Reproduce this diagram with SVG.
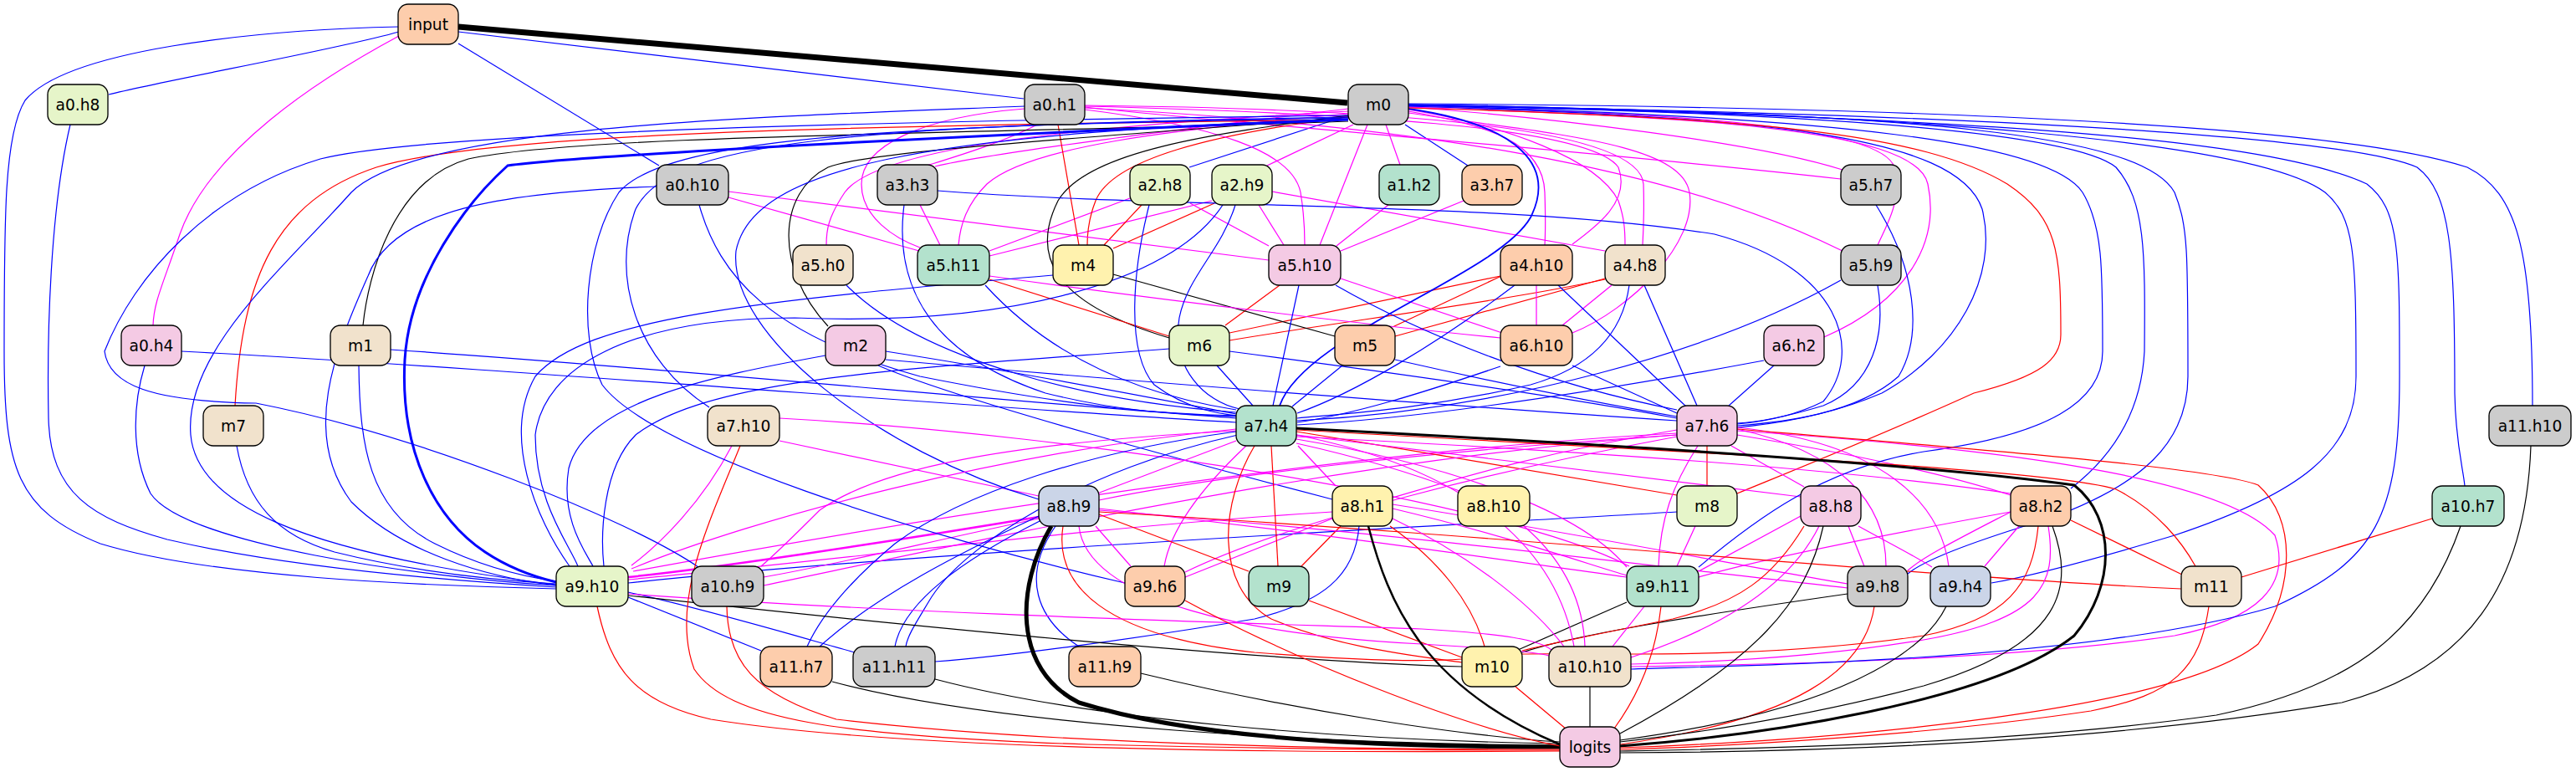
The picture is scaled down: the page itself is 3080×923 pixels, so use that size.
<svg xmlns="http://www.w3.org/2000/svg" width="3080" height="923" viewBox="0 0 3080 923">
<style>
path{fill:none;stroke-width:1.2}
.b{stroke:#0000ff;marker-end:url(#ab)}
.m{stroke:#ff00ff;marker-end:url(#am)}
.r{stroke:#ff0000;marker-end:url(#ar)}
.k{stroke:#000000;marker-end:url(#ak)}
.node rect{stroke:#000;stroke-width:1.33}
.node text{font-family:"DejaVu Sans","Liberation Sans",sans-serif;font-size:18.67px;text-anchor:middle;fill:#000}
.c1{fill:#b3e2cd}.c2{fill:#fdcdac}.c3{fill:#cbd5e8}.c4{fill:#f4cae4}.c5{fill:#e6f5c9}.c6{fill:#fff2ae}.c7{fill:#f1e2cc}.c8{fill:#cccccc}
</style>
<defs>
<marker id="ab" viewBox="0 0 13 9" refX="13" refY="4.5" markerWidth="13" markerHeight="9" markerUnits="userSpaceOnUse" orient="auto"><path d="M0,0L13,4.5L0,9z" fill="#0000ff" stroke="none"/></marker>
<marker id="am" viewBox="0 0 13 9" refX="13" refY="4.5" markerWidth="13" markerHeight="9" markerUnits="userSpaceOnUse" orient="auto"><path d="M0,0L13,4.5L0,9z" fill="#ff00ff" stroke="none"/></marker>
<marker id="ar" viewBox="0 0 13 9" refX="13" refY="4.5" markerWidth="13" markerHeight="9" markerUnits="userSpaceOnUse" orient="auto"><path d="M0,0L13,4.5L0,9z" fill="#ff0000" stroke="none"/></marker>
<marker id="ak" viewBox="0 0 13 9" refX="13" refY="4.5" markerWidth="13" markerHeight="9" markerUnits="userSpaceOnUse" orient="auto"><path d="M0,0L13,4.5L0,9z" fill="#000000" stroke="none"/></marker>
<marker id="akT" viewBox="0 0 22 20" refX="22" refY="10" markerWidth="22" markerHeight="20" markerUnits="userSpaceOnUse" orient="auto"><path d="M0,0L22,10L0,20z" fill="#000000" stroke="none"/></marker>
<marker id="akM" viewBox="0 0 17 14" refX="17" refY="7" markerWidth="17" markerHeight="14" markerUnits="userSpaceOnUse" orient="auto"><path d="M0,0L17,7L0,14z" fill="#000000" stroke="none"/></marker>
<marker id="abT" viewBox="0 0 17 13" refX="17" refY="6.5" markerWidth="17" markerHeight="13" markerUnits="userSpaceOnUse" orient="auto"><path d="M0,0L17,6.5L0,13z" fill="#0000ff" stroke="none"/></marker>
<marker id="amT" viewBox="0 0 15 11" refX="15" refY="5.5" markerWidth="15" markerHeight="11" markerUnits="userSpaceOnUse" orient="auto"><path d="M0,0L15,5.5L0,11z" fill="#ff00ff" stroke="none"/></marker>
</defs>
<rect width="3080" height="923" fill="#ffffff"/>
<g id="edges">
<!-- input -->
<path class="k" style="stroke-width:7;marker-end:url(#akT)" d="M548,32 L1611,123"/>
<path class="b" d="M548,38 L1224,118"/>
<path class="b" d="M477,38 C400,60 200,95 130,113"/>
<path class="b" d="M548,52 L788,198"/>
<path class="m" d="M477,43 C380,95 250,180 215,280 C195,340 184,360 183,389"/>
<path class="b" d="M477,32 C300,36 80,60 30,120 C5,160 5,260 5,420 C5,560 20,610 120,650 C250,690 500,700 665,704"/>
<!-- rank2 -->
<path class="m" d="M1612,130 C1450,150 1200,180 1118,199"/>
<path class="m" d="M1240,149 C1200,170 1140,188 1108,198"/>
<path class="b" d="M1612,138 L1422,200"/>
<path class="m" d="M1618,149 L1515,198"/>
<path class="m" d="M1657,149 L1674,197"/>
<path class="b" d="M1680,149 L1755,198"/>
<path class="m" d="M1684,128 C1850,140 2100,170 2203,203"/>
<path class="m" d="M1297,128 C1500,150 1900,180 2201,214"/>
<!-- rank3 -->
<path class="m" d="M1612,133 C1300,150 1050,175 1010,230 C990,260 988,275 988,293"/>
<path class="m" d="M1612,136 C1400,155 1230,175 1180,220 C1155,245 1148,270 1146,293"/>
<path class="m" d="M1225,130 C1100,140 1030,175 1030,220 C1030,260 1070,285 1100,296"/>
<path class="m" d="M871,236 L1099,300"/>
<path class="m" d="M1100,245 L1124,293"/>
<path class="m" d="M1351,237 L1183,300"/>
<path class="m" d="M1449,240 L1183,306"/>
<path class="r" d="M1265,149 L1290,293"/>
<path class="r" d="M1612,140 C1450,160 1330,190 1310,240 C1302,260 1300,275 1300,293"/>
<path class="r" d="M1365,245 L1320,293"/>
<path class="r" d="M1452,243 L1331,297"/>
<path class="m" d="M871,229 L1517,311"/>
<path class="m" d="M1423,243 L1517,294"/>
<path class="m" d="M1505,245 L1535,293"/>
<path class="m" d="M1297,131 C1450,150 1545,180 1555,230 C1560,260 1560,280 1560,293"/>
<path class="m" d="M1635,149 L1578,293"/>
<path class="m" d="M1660,245 L1598,294"/>
<path class="m" d="M1750,240 L1603,300"/>
<path class="m" d="M1684,133 C1780,150 1845,170 1847,230 C1848,260 1848,275 1847,293"/>
<path class="m" d="M1297,127 C1600,135 1900,150 1935,200 C1950,240 1910,270 1880,292"/>
<path class="m" d="M1521,229 L1919,300"/>
<path class="m" d="M1684,131 C1800,150 1910,190 1935,240 C1942,260 1943,275 1943,293"/>
<path class="m" d="M1297,126 C1650,130 1960,150 1965,220 C1966,250 1965,275 1964,293"/>
<path class="m" d="M1297,129 C1700,150 2000,200 2203,300"/>
<path class="m" d="M1684,127 C2000,135 2250,150 2265,200 C2275,240 2255,270 2245,293"/>
<!-- rank4 -->
<path class="k" d="M1612,145 C1200,160 700,160 560,190 C470,215 440,330 434,389"/>
<path class="k" d="M1612,140 C1300,165 1040,180 990,200 C930,230 925,320 990,390"/>
<path class="k" d="M1612,138 C1450,160 1300,180 1265,240 C1235,300 1250,360 1398,404"/>
<path class="r" d="M1183,334 L1398,402"/>
<path class="r" d="M1530,341 L1465,389"/>
<path class="r" d="M1794,330 L1470,398"/>
<path class="r" d="M1919,334 C1800,360 1600,385 1470,407"/>
<path class="k" d="M1331,328 L1596,402"/>
<path class="r" d="M1795,330 L1665,391"/>
<path class="r" d="M1919,333 L1668,402"/>
<path class="m" d="M1603,333 L1796,398"/>
<path class="m" d="M1183,330 C1400,360 1650,390 1794,404"/>
<path class="m" d="M1837,341 L1837,389"/>
<path class="m" d="M1927,341 L1868,389"/>
<path class="m" d="M1684,135 C1850,160 2010,170 2020,230 C2030,290 1950,370 1880,398"/>
<path class="m" d="M1684,128 C2000,140 2290,150 2305,220 C2320,290 2280,360 2181,403"/>
<!-- rank5 -->
<path class="r" d="M1612,143 C1100,150 600,155 450,200 C330,240 290,330 281,485"/>
<path class="b" d="M1612,140 C1000,150 800,170 760,250 C730,330 760,430 848,487"/>
<path class="b" d="M1684,124 C2300,128 2800,150 2950,200 C3010,230 3028,300 3028,485"/>
<path class="b" d="M1684,126 C2300,135 2800,160 2890,200 C2930,230 2935,300 2935,470 C2936,530 2945,560 2947,581"/>
<path class="b" style="stroke-width:1.8" d="M1684,130 C1820,150 1860,200 1830,260 C1790,330 1560,400 1530,485"/>
<path class="b" d="M1455,437 L1498,485"/>
<path class="b" d="M1553,341 L1522,485"/>
<path class="b" d="M1605,437 L1545,486"/>
<path class="b" d="M1811,341 C1720,410 1620,470 1551,494"/>
<path class="b" d="M1948,341 C1940,400 1900,440 1830,460 C1700,490 1600,495 1551,500"/>
<path class="b" d="M1794,438 C1700,470 1620,495 1551,505"/>
<path class="b" d="M2109,431 C1900,470 1700,500 1551,508"/>
<path class="b" d="M2201,335 C2050,420 1800,490 1551,503"/>
<path class="b" d="M217,420 C600,440 1200,490 1478,505"/>
<path class="b" d="M467,418 C800,440 1200,480 1478,500"/>
<path class="b" d="M836,245 C860,330 920,400 1100,450 C1300,490 1400,495 1478,497"/>
<path class="b" d="M1081,245 C1070,330 1100,420 1250,470 C1350,495 1420,495 1478,498"/>
<path class="b" d="M1012,341 C1100,430 1300,480 1478,493"/>
<path class="b" d="M1178,341 C1250,420 1350,470 1478,490"/>
<path class="b" d="M1059,420 C1250,450 1400,480 1478,495"/>
<path class="b" d="M1059,430 C1400,460 1800,490 2005,503"/>
<path class="b" d="M1050,437 C1150,480 1450,560 1593,597"/>
<path class="b" d="M1374,245 C1355,320 1345,420 1380,460 C1420,490 1460,495 1480,497"/>
<path class="b" d="M1477,245 C1460,300 1420,330 1410,380 C1400,440 1440,480 1482,489"/>
<path class="b" d="M1121,228 C1400,250 1800,240 2050,280 C2200,320 2230,420 2180,480 C2140,500 2100,505 2077,507"/>
<path class="b" d="M1863,341 L2016,486"/>
<path class="b" d="M1966,341 L2029,485"/>
<path class="b" d="M2121,437 L2067,485"/>
<path class="b" d="M1880,437 L2005,494"/>
<path class="b" d="M1668,430 C1800,460 1900,480 2005,498"/>
<path class="b" d="M1470,420 C1700,450 1900,480 2005,500"/>
<path class="b" d="M1597,341 C1700,400 1850,460 2005,490"/>
<path class="b" d="M2245,341 C2255,400 2240,460 2180,485 C2130,500 2100,505 2077,506"/>
<path class="b" d="M2243,245 C2290,320 2300,400 2270,450 C2220,495 2130,505 2077,509"/>
<path class="b" d="M1684,127 C2100,140 2340,160 2370,250 C2390,330 2340,420 2250,470 C2180,500 2110,508 2077,511"/>
<!-- rank6 -->
<path class="m" d="M932,527 L1242,593"/>
<path class="m" d="M1478,527 L1312,590"/>
<path class="m" d="M2005,520 C1700,540 1450,570 1314,598"/>
<path class="b" d="M1612,142 C1100,160 900,200 880,300 C870,400 1050,540 1242,597"/>
<path class="m" d="M1552,533 L1597,581"/>
<path class="m" d="M2005,514 C1850,540 1750,570 1665,595"/>
<path class="m" d="M1550,530 C1640,550 1700,570 1745,587"/>
<path class="r" d="M1550,516 C1700,540 1900,575 2005,592"/>
<path class="r" d="M2041,533 L2041,581"/>
<path class="r" d="M1684,129 C2100,140 2300,160 2400,220 C2460,260 2464,300 2464,400 C2464,430 2440,450 2360,470 C2250,520 2150,560 2077,590"/>
<path class="m" d="M2070,533 L2157,582"/>
<path class="m" d="M1550,520 C1800,550 2000,575 2153,594"/>
<path class="m" d="M1550,522 C1900,540 2200,560 2404,590"/>
<path class="m" d="M2077,520 C2200,540 2320,565 2404,592"/>
<path class="b" d="M1684,126 C2200,135 2480,160 2530,200 C2565,240 2565,300 2564,420 C2560,500 2520,550 2476,584"/>
<!-- rank7 -->
<path class="b" d="M84,149 C60,250 56,400 58,500 C60,590 110,620 200,645 C350,680 550,695 665,702"/>
<path class="b" d="M173,437 C160,480 155,540 180,590 C220,650 500,690 665,700"/>
<path class="b" d="M283,533 C295,600 330,640 400,660 C500,685 600,694 665,698"/>
<path class="b" d="M429,437 C430,530 440,610 520,650 C580,680 630,690 665,695"/>
<path class="b" d="M1225,127 C900,140 500,150 420,230 C340,320 220,420 228,520 C235,600 350,660 665,699"/>
<path class="b" d="M785,223 C600,230 470,250 440,330 C400,420 360,520 420,600 C480,660 580,690 665,700"/>
<path class="b" style="stroke-width:3;marker-end:url(#abT)" d="M1612,143 C1200,160 700,185 607,198 C560,240 490,330 484,430 C478,540 520,620 580,660 C610,680 640,690 665,696"/>
<path class="b" d="M1259,329 C900,360 700,380 640,450 C600,520 640,620 681,677"/>
<path class="b" d="M1462,245 C1400,340 1200,390 950,380 C750,380 650,440 640,520 C640,600 680,650 691,677"/>
<path class="b" d="M987,425 C850,450 700,480 680,560 C670,620 700,660 709,677"/>
<path class="b" d="M1398,417 C1100,440 850,450 760,520 C720,560 718,640 722,677"/>
<path class="m" style="stroke-width:2.5;marker-end:url(#amT)" d="M1242,618 C1050,650 850,680 751,690"/>
<path class="m" d="M1478,513 C1200,540 900,620 755,680"/>
<path class="m" d="M875,533 C840,600 790,650 755,676"/>
<path class="m" d="M1593,612 C1300,630 1000,670 751,693"/>
<path class="m" d="M2005,518 C1600,540 1100,620 757,683"/>
<path class="b" d="M2005,612 C1700,630 1100,660 751,697"/>
<path class="b" d="M1612,138 C1000,145 500,160 383,190 C250,230 160,330 125,420 C130,460 180,480 306,482 C500,520 750,620 835,678"/>
<path class="m" d="M1242,620 C1100,650 1000,675 913,690"/>
<path class="m" d="M1478,515 C1200,530 1050,560 980,610 C950,640 930,660 910,677"/>
<path class="m" d="M2005,520 C1600,550 1200,640 913,700"/>
<path class="m" d="M1310,629 L1352,677"/>
<path class="m" d="M1490,533 C1440,580 1400,630 1392,677"/>
<path class="m" d="M2005,522 C1800,560 1550,620 1417,684"/>
<path class="m" d="M1593,620 L1417,690"/>
<path class="b" d="M1612,141 C1100,150 800,160 740,230 C700,290 690,400 720,460 C780,540 1100,640 1345,697"/>
<path class="r" d="M1520,533 L1528,677"/>
<path class="r" d="M1603,629 L1556,677"/>
<path class="r" d="M1314,615 L1493,683"/>
<path class="m" d="M1314,608 C1600,640 1800,670 1945,690"/>
<path class="m" d="M1550,525 C1700,550 1880,600 1945,678"/>
<path class="m" d="M2030,533 C2000,580 1985,620 1983,677"/>
<path class="m" d="M2027,629 L2005,677"/>
<path class="m" d="M2153,617 L2031,683"/>
<path class="m" d="M2404,612 C2250,640 2100,670 2031,690"/>
<path class="m" d="M1665,608 C1800,640 1900,675 1945,688"/>
<path class="m" d="M932,500 C1300,520 1800,600 1948,677"/>
<path class="b" d="M1684,126 C2200,140 2450,170 2490,230 C2514,270 2514,320 2514,420 C2514,480 2450,520 2300,540 C2180,560 2100,620 2031,678"/>
<path class="m" d="M2210,629 L2229,677"/>
<path class="m" d="M1665,603 C1900,640 2100,680 2209,698"/>
<path class="m" d="M2077,513 C2200,540 2255,600 2255,677"/>
<path class="m" d="M2404,612 C2350,640 2300,665 2281,682"/>
<path class="m" d="M1314,610 C1700,640 2000,680 2209,703"/>
<path class="b" d="M1684,125 C2300,135 2560,160 2600,230 C2616,270 2616,300 2616,450 C2616,530 2560,580 2450,620 C2350,650 2300,670 2281,686"/>
<path class="m" d="M2414,629 L2373,677"/>
<path class="m" d="M2077,511 C2250,530 2320,600 2330,677"/>
<path class="m" d="M2222,629 C2260,650 2290,665 2310,678"/>
<path class="b" d="M1684,125 C2300,135 2700,170 2780,230 C2815,260 2817,300 2817,450 C2817,540 2750,590 2600,640 C2500,670 2420,690 2381,697"/>
<path class="r" d="M2476,622 L2609,687"/>
<path class="r" d="M1314,612 C1800,640 2300,690 2608,704"/>
<path class="r" d="M1550,514 C2000,540 2450,560 2530,585 C2580,610 2610,650 2625,677"/>
<path class="r" d="M2908,620 L2680,690"/>
<!-- rank8 -->
<path class="b" d="M751,714 L910,778"/>
<path class="b" d="M1478,516 C1300,540 1150,590 1070,650 C1010,700 980,740 965,773"/>
<path class="b" d="M1242,617 C1150,660 1050,710 980,773"/>
<path class="b" d="M751,708 C850,730 950,760 1022,780"/>
<path class="b" d="M1245,622 C1150,670 1080,720 1070,773"/>
<path class="b" d="M1480,520 C1300,560 1150,650 1110,720 C1095,745 1085,760 1083,773"/>
<path class="b" d="M1625,629 C1620,690 1580,720 1500,740 C1350,765 1200,785 1118,791"/>
<path class="b" d="M1262,629 C1220,690 1240,740 1290,773"/>
<path class="r" d="M1662,629 C1720,670 1760,720 1775,773"/>
<path class="r" d="M1271,629 C1260,700 1320,760 1500,780 C1650,792 1720,790 1748,788"/>
<path class="r" d="M1500,533 C1460,600 1450,700 1520,740 C1600,775 1700,785 1748,792"/>
<path class="k" d="M751,712 C1100,750 1500,790 1748,797"/>
<path class="r" d="M1565,718 C1650,750 1720,775 1748,786"/>
<path class="k" d="M1945,720 L1815,777"/>
<path class="k" d="M2209,710 C2000,740 1880,760 1820,780"/>
<path class="r" d="M2157,629 C2120,690 2080,720 2000,740 C1900,760 1850,770 1820,778"/>
<path class="r" d="M2437,629 C2430,700 2400,740 2300,760 C2100,790 1900,780 1820,782"/>
<path class="m" d="M1966,725 L1928,773"/>
<path class="m" d="M1822,629 C1870,670 1893,720 1895,773"/>
<path class="m" d="M1665,620 C1750,660 1830,720 1870,773"/>
<path class="m" d="M1290,629 C1300,720 1500,760 1700,770 C1800,776 1840,780 1852,784"/>
<path class="m" d="M1550,520 C1750,560 1860,650 1882,773"/>
<path class="m" d="M2175,629 C2140,700 2060,750 1950,786"/>
<path class="m" d="M2449,629 C2460,700 2440,740 2300,765 C2150,790 2000,793 1950,794"/>
<path class="m" d="M2077,515 C2300,530 2650,560 2720,640 C2740,700 2700,740 2600,760 C2400,790 2100,795 1950,797"/>
<path class="b" d="M1684,125 C2300,140 2700,160 2830,220 C2869,250 2869,300 2869,450 C2869,620 2840,670 2720,725 C2500,790 2100,795 1950,800"/>
<path class="m" d="M751,710 C1100,735 1500,745 1700,752 C1800,758 1840,765 1855,777"/>
<!-- logits -->
<path class="k" d="M1901,821 L1901,869"/>
<path class="r" d="M1812,821 L1873,872"/>
<path class="r" d="M1986,725 C1980,780 1960,830 1930,871"/>
<path class="k" d="M2180,629 C2160,720 2100,790 1937,877"/>
<path class="r" d="M2241,725 C2230,800 2150,860 1937,890"/>
<path class="k" d="M2327,725 C2300,780 2200,850 1937,885"/>
<path class="k" d="M2454,629 C2480,700 2470,770 2300,820 C2150,860 2000,880 1937,887"/>
<path class="k" style="stroke-width:3;marker-end:url(#akM)" d="M1550,512 C1900,530 2300,555 2480,580 C2530,620 2530,700 2480,760 C2380,840 2100,880 1937,892"/>
<path class="r" d="M2641,725 C2630,800 2600,830 2500,850 C2300,880 2050,893 1937,896"/>
<path class="k" d="M2942,629 C2900,750 2820,820 2650,855 C2400,890 2100,895 1937,898"/>
<path class="k" d="M3026,533 C3020,700 2950,800 2800,840 C2500,890 2150,899 1937,900"/>
<path class="r" d="M2077,513 C2400,540 2650,560 2700,580 C2745,620 2745,700 2700,770 C2600,850 2200,885 1937,894"/>
<path class="k" style="stroke-width:2.5;marker-end:url(#akM)" d="M1636,629 C1660,720 1700,820 1865,890"/>
<path class="k" style="stroke-width:5;marker-end:url(#akM)" d="M1257,629 C1215,700 1210,800 1290,840 C1450,890 1700,893 1865,893"/>
<path class="k" d="M995,815 C1200,870 1600,890 1865,891"/>
<path class="k" d="M1118,812 C1300,860 1600,885 1865,889"/>
<path class="k" d="M1364,805 C1550,850 1750,880 1865,887"/>
<path class="r" d="M869,725 C870,790 900,830 1000,860 C1300,895 1700,896 1865,896"/>
<path class="r" d="M714,725 C730,800 760,840 850,860 C1100,900 1600,900 1865,898"/>
<path class="r" d="M885,533 C850,620 800,720 830,800 C870,860 1000,880 1300,890 C1600,897 1800,897 1865,897"/>
<path class="r" d="M1417,718 C1550,790 1750,870 1865,892"/>
</g>
<g id="node-input" class="node"><rect class="c2" x="476" y="5" width="72" height="48" rx="12"/><text x="512" y="36">input</text></g>
<g id="node-a0.h8" class="node"><rect class="c5" x="57" y="101" width="72" height="48" rx="12"/><text x="93" y="132">a0.h8</text></g>
<g id="node-a0.h1" class="node"><rect class="c8" x="1225" y="101" width="72" height="48" rx="12"/><text x="1261" y="132">a0.h1</text></g>
<g id="node-m0" class="node"><rect class="c8" x="1612" y="101" width="72" height="48" rx="12"/><text x="1648" y="132">m0</text></g>
<g id="node-a0.h10" class="node"><rect class="c8" x="785" y="197" width="86" height="48" rx="12"/><text x="828" y="228">a0.h10</text></g>
<g id="node-a3.h3" class="node"><rect class="c8" x="1049" y="197" width="72" height="48" rx="12"/><text x="1085" y="228">a3.h3</text></g>
<g id="node-a2.h8" class="node"><rect class="c5" x="1351" y="197" width="72" height="48" rx="12"/><text x="1387" y="228">a2.h8</text></g>
<g id="node-a2.h9" class="node"><rect class="c5" x="1449" y="197" width="72" height="48" rx="12"/><text x="1485" y="228">a2.h9</text></g>
<g id="node-a1.h2" class="node"><rect class="c1" x="1649" y="197" width="72" height="48" rx="12"/><text x="1685" y="228">a1.h2</text></g>
<g id="node-a3.h7" class="node"><rect class="c2" x="1748" y="197" width="72" height="48" rx="12"/><text x="1784" y="228">a3.h7</text></g>
<g id="node-a5.h7" class="node"><rect class="c8" x="2201" y="197" width="72" height="48" rx="12"/><text x="2237" y="228">a5.h7</text></g>
<g id="node-a5.h0" class="node"><rect class="c7" x="948" y="293" width="72" height="48" rx="12"/><text x="984" y="324">a5.h0</text></g>
<g id="node-a5.h11" class="node"><rect class="c1" x="1097" y="293" width="86" height="48" rx="12"/><text x="1140" y="324">a5.h11</text></g>
<g id="node-m4" class="node"><rect class="c6" x="1259" y="293" width="72" height="48" rx="12"/><text x="1295" y="324">m4</text></g>
<g id="node-a5.h10" class="node"><rect class="c4" x="1517" y="293" width="86" height="48" rx="12"/><text x="1560" y="324">a5.h10</text></g>
<g id="node-a4.h10" class="node"><rect class="c2" x="1794" y="293" width="86" height="48" rx="12"/><text x="1837" y="324">a4.h10</text></g>
<g id="node-a4.h8" class="node"><rect class="c7" x="1919" y="293" width="72" height="48" rx="12"/><text x="1955" y="324">a4.h8</text></g>
<g id="node-a5.h9" class="node"><rect class="c8" x="2201" y="293" width="72" height="48" rx="12"/><text x="2237" y="324">a5.h9</text></g>
<g id="node-a0.h4" class="node"><rect class="c4" x="145" y="389" width="72" height="48" rx="12"/><text x="181" y="420">a0.h4</text></g>
<g id="node-m1" class="node"><rect class="c7" x="395" y="389" width="72" height="48" rx="12"/><text x="431" y="420">m1</text></g>
<g id="node-m2" class="node"><rect class="c4" x="987" y="389" width="72" height="48" rx="12"/><text x="1023" y="420">m2</text></g>
<g id="node-m6" class="node"><rect class="c5" x="1398" y="389" width="72" height="48" rx="12"/><text x="1434" y="420">m6</text></g>
<g id="node-m5" class="node"><rect class="c2" x="1596" y="389" width="72" height="48" rx="12"/><text x="1632" y="420">m5</text></g>
<g id="node-a6.h10" class="node"><rect class="c2" x="1794" y="389" width="86" height="48" rx="12"/><text x="1837" y="420">a6.h10</text></g>
<g id="node-a6.h2" class="node"><rect class="c4" x="2109" y="389" width="72" height="48" rx="12"/><text x="2145" y="420">a6.h2</text></g>
<g id="node-m7" class="node"><rect class="c7" x="243" y="485" width="72" height="48" rx="12"/><text x="279" y="516">m7</text></g>
<g id="node-a7.h10" class="node"><rect class="c7" x="846" y="485" width="86" height="48" rx="12"/><text x="889" y="516">a7.h10</text></g>
<g id="node-a7.h4" class="node"><rect class="c1" x="1478" y="485" width="72" height="48" rx="12"/><text x="1514" y="516">a7.h4</text></g>
<g id="node-a7.h6" class="node"><rect class="c4" x="2005" y="485" width="72" height="48" rx="12"/><text x="2041" y="516">a7.h6</text></g>
<g id="node-a11.h10" class="node"><rect class="c8" x="2976" y="485" width="98" height="48" rx="12"/><text x="3025" y="516">a11.h10</text></g>
<g id="node-a8.h9" class="node"><rect class="c3" x="1242" y="581" width="72" height="48" rx="12"/><text x="1278" y="612">a8.h9</text></g>
<g id="node-a8.h1" class="node"><rect class="c6" x="1593" y="581" width="72" height="48" rx="12"/><text x="1629" y="612">a8.h1</text></g>
<g id="node-a8.h10" class="node"><rect class="c6" x="1743" y="581" width="86" height="48" rx="12"/><text x="1786" y="612">a8.h10</text></g>
<g id="node-m8" class="node"><rect class="c5" x="2005" y="581" width="72" height="48" rx="12"/><text x="2041" y="612">m8</text></g>
<g id="node-a8.h8" class="node"><rect class="c4" x="2153" y="581" width="72" height="48" rx="12"/><text x="2189" y="612">a8.h8</text></g>
<g id="node-a8.h2" class="node"><rect class="c2" x="2404" y="581" width="72" height="48" rx="12"/><text x="2440" y="612">a8.h2</text></g>
<g id="node-a10.h7" class="node"><rect class="c1" x="2908" y="581" width="86" height="48" rx="12"/><text x="2951" y="612">a10.h7</text></g>
<g id="node-a9.h10" class="node"><rect class="c5" x="665" y="677" width="86" height="48" rx="12"/><text x="708" y="708">a9.h10</text></g>
<g id="node-a10.h9" class="node"><rect class="c8" x="827" y="677" width="86" height="48" rx="12"/><text x="870" y="708">a10.h9</text></g>
<g id="node-a9.h6" class="node"><rect class="c2" x="1345" y="677" width="72" height="48" rx="12"/><text x="1381" y="708">a9.h6</text></g>
<g id="node-m9" class="node"><rect class="c1" x="1493" y="677" width="72" height="48" rx="12"/><text x="1529" y="708">m9</text></g>
<g id="node-a9.h11" class="node"><rect class="c1" x="1945" y="677" width="86" height="48" rx="12"/><text x="1988" y="708">a9.h11</text></g>
<g id="node-a9.h8" class="node"><rect class="c8" x="2209" y="677" width="72" height="48" rx="12"/><text x="2245" y="708">a9.h8</text></g>
<g id="node-a9.h4" class="node"><rect class="c3" x="2308" y="677" width="72" height="48" rx="12"/><text x="2344" y="708">a9.h4</text></g>
<g id="node-m11" class="node"><rect class="c7" x="2608" y="677" width="72" height="48" rx="12"/><text x="2644" y="708">m11</text></g>
<g id="node-a11.h7" class="node"><rect class="c2" x="909" y="773" width="86" height="48" rx="12"/><text x="952" y="804">a11.h7</text></g>
<g id="node-a11.h11" class="node"><rect class="c8" x="1020" y="773" width="98" height="48" rx="12"/><text x="1069" y="804">a11.h11</text></g>
<g id="node-a11.h9" class="node"><rect class="c2" x="1278" y="773" width="86" height="48" rx="12"/><text x="1321" y="804">a11.h9</text></g>
<g id="node-m10" class="node"><rect class="c6" x="1748" y="773" width="72" height="48" rx="12"/><text x="1784" y="804">m10</text></g>
<g id="node-a10.h10" class="node"><rect class="c7" x="1852" y="773" width="98" height="48" rx="12"/><text x="1901" y="804">a10.h10</text></g>
<g id="node-logits" class="node"><rect class="c4" x="1865" y="869" width="72" height="48" rx="12"/><text x="1901" y="900">logits</text></g>
</svg>
